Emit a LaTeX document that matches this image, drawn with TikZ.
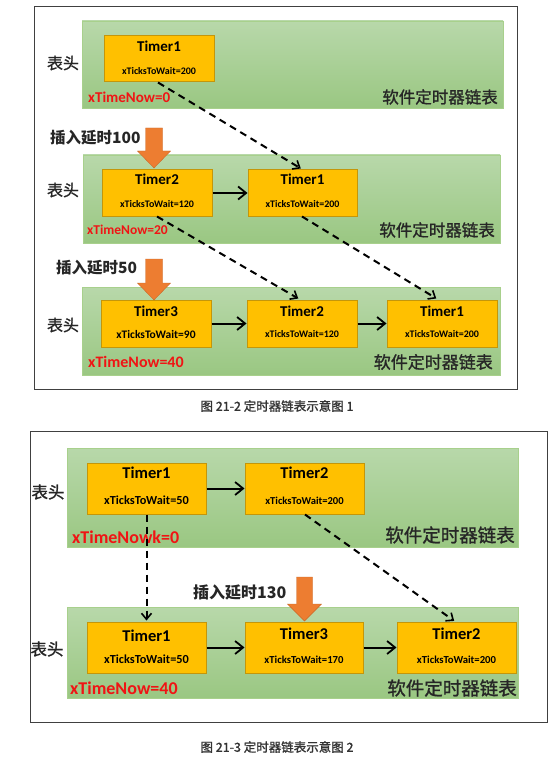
\documentclass[tikz,border=0pt]{standalone}
\usepackage{fontspec}
\setmainfont{Carlito}
\newfontfamily\cjk{Noto Sans CJK SC}
\newfontfamily\cjkm[FakeBold=1.2]{Noto Sans CJK SC}
\usetikzlibrary{arrows.meta,calc}
\definecolor{gtop}{RGB}{184,216,170}
\definecolor{gbot}{RGB}{154,199,130}
\definecolor{gline}{RGB}{168,208,140}
\definecolor{boxfill}{RGB}{255,192,0}
\definecolor{boxline}{RGB}{196,150,10}
\definecolor{orng}{RGB}{237,125,49}
\definecolor{redtxt}{RGB}{240,20,20}
\tikzset{
  frame/.style={draw=black!75,line width=1pt},
  panel/.style={draw=gline,line width=0.6pt,top color=gtop,bottom color=gbot,inner sep=0pt},
  tbox/.style={draw=boxline,fill=boxfill,line width=1pt,inner sep=0pt},
  tname/.style={font=\bfseries\fontsize{#1}{#1}\selectfont,inner sep=0pt,anchor=center},
  tticks/.style={font=\bfseries\fontsize{#1}{#1}\selectfont,inner sep=0pt,anchor=center},
  head/.style={font=\cjkm\fontsize{#1}{#1}\selectfont,text=black!85,inner sep=0pt,anchor=center},
  listname/.style={font=\cjkm\fontsize{#1}{#1}\selectfont,text=black!85,inner sep=0pt,anchor=east},
  nowtxt/.style={font=\bfseries\fontsize{#1}{#1}\selectfont,text=redtxt,inner sep=0pt,anchor=west},
  instxt/.style={font=\cjk\bfseries\fontsize{#1}{#1}\selectfont,text=black!85,inner sep=0pt,anchor=west},
  captxt/.style={font=\cjkm\fontsize{12.5}{12.5}\selectfont,text=black!80,inner sep=0pt,anchor=center},
  link/.style={line width=2pt,-{Straight Barb[length=8pt,width=13pt,line width=1.8pt]}},
  dlink/.style={line width=2pt,dash pattern=on 7pt off 5pt,-{Straight Barb[length=6pt,width=10pt,line width=1.6pt]}},
  bigarrow/.style={fill=orng,draw=orng!85!black,line width=0.4pt}
}
\begin{document}
\begin{tikzpicture}[x=1pt,y=-1pt]
\useasboundingbox (0,0) rectangle (554,759);
\fill[white] (0,0) rectangle (554,759);

% ================= Figure 21-2 =================
\draw[frame] (34,7) rectangle (517,389);

% panel 1
\node[panel,minimum width=421pt,minimum height=87pt] (p1) at (292.5,64.5) {};
\node[tbox,minimum width=110pt,minimum height=46pt] (a1) at (159,59) {};
\node[tname=15] (a1t) at ($(a1.north)+(0,11)$) {Timer1};
\node[tticks=10] (a1k) at ($(a1.north)+(0,36)$) {xTicksToWait=200};
\node[head=16] (h1) at (63,63) {表头};
\node[nowtxt=15] (n1) at (88,97) {xTimeNow=0};
\node[listname=16.5] (l1) at (498,97) {软件定时器链表};

% panel 2
\node[panel,minimum width=417pt,minimum height=88pt] (p2) at (291.5,199) {};
\node[tbox,minimum width=110pt,minimum height=46pt] (b2) at (157,193) {};
\node[tbox,minimum width=109pt,minimum height=46pt] (b1) at (302.5,193) {};
\node[tname=15] (b2t) at ($(b2.north)+(0,10)$) {Timer2};
\node[tticks=10] (b2k) at ($(b2.north)+(0,35)$) {xTicksToWait=120};
\node[tname=15] (b1t) at ($(b1.north)+(0,10)$) {Timer1};
\node[tticks=10] (b1k) at ($(b1.north)+(0,35)$) {xTicksToWait=200};
\node[head=16] (h2) at (63,190) {表头};
\node[nowtxt=13.5] (n2) at (87,230) {xTimeNow=20};
\node[listname=16.5] (l2) at (495,230) {软件定时器链表};
\draw[link] (b2.east) -- (b1.west);

% insert 100
\node[instxt=15.5] (i1) at (50,138) {插入延时100};
\fill[bigarrow] (145.5,128) -- (162.5,128) -- (162.5,151) -- (170.5,151) -- (154,168) -- (137.5,151) -- (145.5,151) -- cycle;

% panel 3
\node[panel,minimum width=418pt,minimum height=88pt] (p3) at (291,331) {};
\node[tbox,minimum width=110pt,minimum height=47pt] (c3) at (156,323.5) {};
\node[tbox,minimum width=110pt,minimum height=47pt] (c2) at (302,323.5) {};
\node[tbox,minimum width=110pt,minimum height=47pt] (c1) at (442,323.5) {};
\node[tname=15] (c3t) at ($(c3.north)+(0,12)$) {Timer3};
\node[tticks=11.5] (c3k) at ($(c3.north)+(0,35)$) {xTicksToWait=90};
\node[tname=15] (c2t) at ($(c2.north)+(0,12)$) {Timer2};
\node[tticks=10] (c2k) at ($(c2.north)+(0,35)$) {xTicksToWait=120};
\node[tname=15] (c1t) at ($(c1.north)+(0,12)$) {Timer1};
\node[tticks=10] (c1k) at ($(c1.north)+(0,35)$) {xTicksToWait=200};
\node[head=16] (h3) at (63,325) {表头};
\node[nowtxt=16] (n3) at (88,362) {xTimeNow=40};
\node[listname=17] (l3) at (493,362) {软件定时器链表};
\draw[link] (c3.east) -- (c2.west);
\draw[link] (c2.east) -- (c1.west);

% insert 50
\node[instxt=15.5] (i2) at (56,268) {插入延时50};
\fill[bigarrow] (145.5,259) -- (162.5,259) -- (162.5,283) -- (170.5,283) -- (154,300) -- (137.5,283) -- (145.5,283) -- cycle;

% dashed moves
\draw[dlink,shorten >=2pt] ($(a1.south)+(-1,0)$) -- ($(b1.north)+(0,0)$);
\draw[dlink,shorten >=2pt] (b2.south) -- ($(c2.north)+(-2,0)$);
\draw[dlink,shorten >=2pt] ($(b1.south)+(-0.5,0)$) -- ($(c1.north)+(-4,0)$);

\node[captxt] (cap1) at (277,406) {图 21-2 定时器链表示意图 1};

% ================= Figure 21-3 =================
\draw[frame] (30,431) rectangle (547,722);

% panel A
\node[panel,minimum width=451pt,minimum height=99pt] (pa) at (292.5,497.5) {};
\node[tbox,minimum width=119pt,minimum height=51pt] (d1) at (146.5,488.5) {};
\node[tbox,minimum width=119pt,minimum height=51pt] (d2) at (304.5,488.5) {};
\node[tname=16.5] (d1t) at ($(d1.north)+(0,10)$) {Timer1};
\node[tticks=12.3] (d1k) at ($(d1.north)+(0,38)$) {xTicksToWait=50};
\node[tname=16.5] (d2t) at ($(d2.north)+(0,10)$) {Timer2};
\node[tticks=10.6] (d2k) at ($(d2.north)+(0,38)$) {xTicksToWait=200};
\node[head=16.5] (h4) at (48,492) {表头};
\node[nowtxt=18] (n4) at (72,537) {xTimeNowk=0};
\node[listname=18.5] (l4) at (515,535) {软件定时器链表};
\draw[link] (d1.east) -- (d2.west);

% panel B
\node[panel,minimum width=451pt,minimum height=91pt] (pb) at (292.5,652.5) {};
\node[tbox,minimum width=119pt,minimum height=51pt] (e1) at (146.5,647.5) {};
\node[tbox,minimum width=118pt,minimum height=51pt] (e3) at (304,647.5) {};
\node[tbox,minimum width=119pt,minimum height=51pt] (e2) at (456.5,647.5) {};
\node[tname=16.5] (e1t) at ($(e1.north)+(0,14)$) {Timer1};
\node[tticks=12.3] (e1k) at ($(e1.north)+(0,38)$) {xTicksToWait=50};
\node[tname=16.5] (e3t) at ($(e3.north)+(0,12)$) {Timer3};
\node[tticks=10.7] (e3k) at ($(e3.north)+(0,38)$) {xTicksToWait=170};
\node[tname=16.5] (e2t) at ($(e2.north)+(0,12)$) {Timer2};
\node[tticks=10.7] (e2k) at ($(e2.north)+(0,38)$) {xTicksToWait=200};
\node[head=16.5] (h5) at (47,649) {表头};
\node[nowtxt=18] (n5) at (70,688) {xTimeNow=40};
\node[listname=18.5] (l5) at (517,688) {软件定时器链表};
\draw[link] (e1.east) -- (e3.west);
\draw[link] (e3.east) -- (e2.west);

% insert 130
\node[instxt=16] (i3) at (193,592) {插入延时130};
\fill[bigarrow] (296.5,577) -- (312.5,577) -- (312.5,604) -- (321.5,604) -- (304.5,621) -- (287.5,604) -- (296.5,604) -- cycle;

\draw[dlink,shorten >=1pt] (d1.south) -- (e1.north);
\draw[dlink,shorten >=1pt] ($(d2.south)+(0.5,0)$) -- ($(e2.north)+(-1.5,0)$);

\node[captxt] (cap2) at (277,747) {图 21-3 定时器链表示意图 2};
\end{tikzpicture}
\end{document}
